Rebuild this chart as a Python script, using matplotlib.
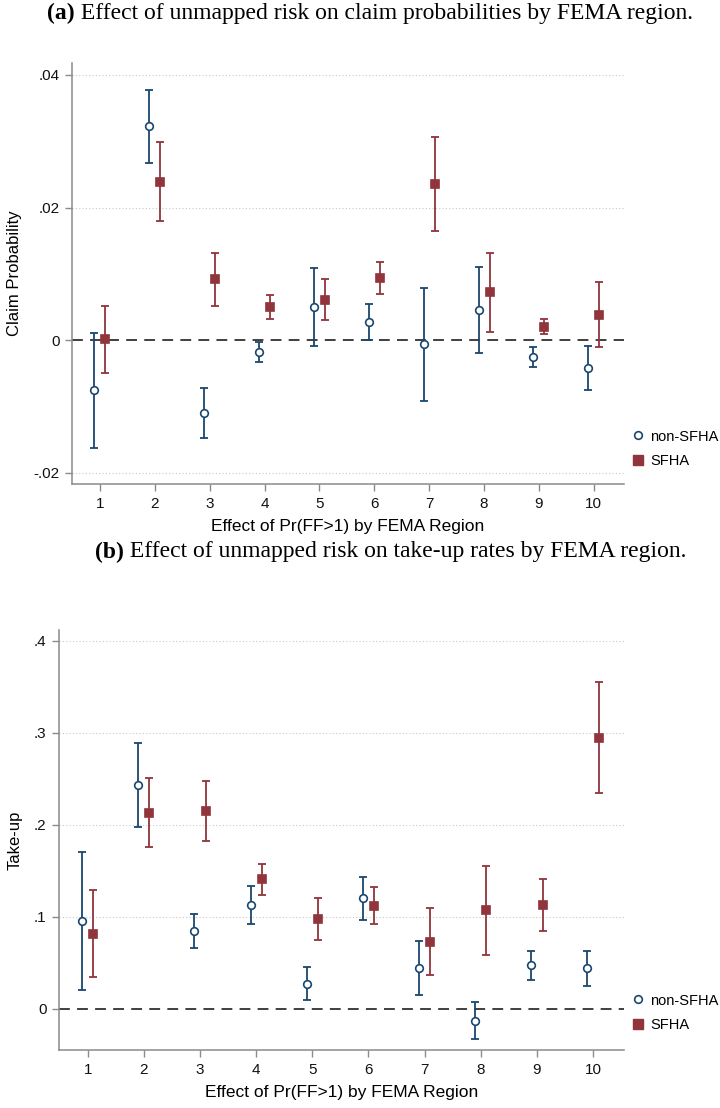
import matplotlib
matplotlib.use("Agg")
import matplotlib.pyplot as plt
from matplotlib.lines import Line2D
from matplotlib.ticker import FixedLocator, FixedFormatter
import numpy as np

regions = [1, 2, 3, 4, 5, 6, 7, 8, 9, 10]
xtick_labels = ["1", "2", "3", "4", "5", "6", "7", "8", "9", "10"]

# Panel (a): claim probability
claim_nonsfha = [-0.0075, 0.0323, -0.0110, -0.0018, 0.0050, 0.0027, -0.0006, 0.0046, -0.0026, -0.0042]
claim_nonsfha_lo = [-0.0162, 0.0267, -0.0147, -0.0033, -0.0009, 0.0000, -0.0092, -0.0020, -0.0040, -0.0075]
claim_nonsfha_hi = [0.0011, 0.0378, -0.0072, -0.0003, 0.0109, 0.0054, 0.0079, 0.0111, -0.0011, -0.0009]
claim_sfha = [0.0001, 0.0239, 0.0092, 0.0050, 0.0060, 0.0094, 0.0235, 0.0072, 0.0020, 0.0038]
claim_sfha_lo = [-0.0050, 0.0180, 0.0051, 0.0032, 0.0030, 0.0069, 0.0164, 0.0012, 0.0009, -0.0010]
claim_sfha_hi = [0.0052, 0.0299, 0.0132, 0.0068, 0.0092, 0.0118, 0.0307, 0.0132, 0.0032, 0.0087]
claim_yticks = [-0.02, 0.0, 0.02, 0.04]
claim_ytick_labels = ["-.02", "0", ".02", ".04"]

# Panel (b): take-up
take_nonsfha = [0.0956, 0.2435, 0.0844, 0.1127, 0.0276, 0.1200, 0.0447, -0.0127, 0.0473, 0.0444]
take_nonsfha_lo = [0.0211, 0.1978, 0.0665, 0.0924, 0.0095, 0.0964, 0.0149, -0.0330, 0.0309, 0.0251]
take_nonsfha_hi = [0.1707, 0.2888, 0.1033, 0.1335, 0.0455, 0.1433, 0.0742, 0.0080, 0.0633, 0.0633]
take_sfha = [0.0818, 0.2130, 0.2149, 0.1409, 0.0978, 0.1120, 0.0727, 0.1073, 0.1131, 0.2946]
take_sfha_lo = [0.0345, 0.1757, 0.1822, 0.1236, 0.0749, 0.0920, 0.0364, 0.0585, 0.0847, 0.2341]
take_sfha_hi = [0.1290, 0.2504, 0.2478, 0.1578, 0.1207, 0.1327, 0.1095, 0.1550, 0.1407, 0.3547]
take_yticks = [0.0, 0.1, 0.2, 0.3, 0.4]
take_ytick_labels = ["0", ".1", ".2", ".3", ".4"]

series_labels = ["non-SFHA", "SFHA"]
titles = [("(a)", " Effect of unmapped risk on claim probabilities by FEMA region."),
          ("(b)", " Effect of unmapped risk on take-up rates by FEMA region.")]

BLUE = "#1a476f"
RED = "#90353b"
AXC = "#8a8a8a"
SANS = ["Liberation Sans", "DejaVu Sans"]
SERIF = ["Liberation Serif", "DejaVu Serif"]

fig = plt.figure(figsize=(7.2, 11.08), dpi=100)

W, H = 720.0, 1108.0
def axrect(l, t, r, b):
    return [l / W, 1 - b / H, (r - l) / W, (b - t) / H]

ax_a = fig.add_axes(axrect(72, 63, 624, 484))
ax_b = fig.add_axes(axrect(59, 630, 624, 1050))

def draw_panel(ax, v1, lo1, hi1, v2, lo2, hi2, yticks, ylabels, ylim, ylabel, legend_y):
    x = np.array(regions, dtype=float)
    for xs, v, lo, hi, col, mk, mfc, ms in [
        (x - 0.1, v1, lo1, hi1, BLUE, "o", "white", 5.5),
        (x + 0.1, v2, lo2, hi2, RED, "s", RED, 6.0)]:
        v = np.array(v); lo = np.array(lo); hi = np.array(hi)
        ax.errorbar(xs, v, yerr=[v - lo, hi - v], fmt="none", ecolor=col,
                    elinewidth=1.3, capsize=3, capthick=1.3, zorder=3)
        ax.plot(xs, v, linestyle="none", marker=mk, markersize=ms,
                markerfacecolor=mfc, markeredgecolor=col, markeredgewidth=1.2, zorder=4)
    ax.axhline(0, color="#303030", linestyle=(0, (6, 4)), linewidth=1.3, zorder=2)
    for yt in yticks:
        if yt != 0:
            ax.axhline(yt, color="#c8c8c8", linestyle=(0, (1, 2)), linewidth=0.8, zorder=1)
    ax.set_xlim(0.49, 10.55)
    ax.set_ylim(*ylim)
    ax.yaxis.set_major_locator(FixedLocator(yticks))
    ax.yaxis.set_major_formatter(FixedFormatter(ylabels))
    ax.set_xticks(regions)
    ax.set_xticklabels(xtick_labels)
    for s in ["top", "right"]:
        ax.spines[s].set_visible(False)
    for s in ["left", "bottom"]:
        ax.spines[s].set_color(AXC)
        ax.spines[s].set_linewidth(1.1)
    ax.tick_params(axis="both", direction="out", length=5, width=1.0, color=AXC,
                   labelsize=11, labelcolor="#111111", pad=4)
    for lab in ax.get_xticklabels() + ax.get_yticklabels():
        lab.set_family(SANS)
    ax.set_ylabel(ylabel, fontsize=12, family=SANS, labelpad=8)
    ax.set_xlabel("Effect of Pr(FF>1) by FEMA Region", fontsize=12.5, family=SANS, labelpad=6)
    handles = [Line2D([], [], linestyle="none", marker="o", markersize=5.5,
                      markerfacecolor="white", markeredgecolor=BLUE, markeredgewidth=1.2),
               Line2D([], [], linestyle="none", marker="s", markersize=6.5,
                      markerfacecolor=RED, markeredgecolor=RED)]
    ax.legend(handles, series_labels, loc="center left",
              bbox_to_anchor=(634 / W, 1 - legend_y / H), bbox_transform=fig.transFigure,
              frameon=False, handlelength=0.6, handletextpad=0.5, labelspacing=0.75,
              borderpad=0, borderaxespad=0, prop={"family": SANS, "size": 10.5})

draw_panel(ax_a, claim_nonsfha, claim_nonsfha_lo, claim_nonsfha_hi,
           claim_sfha, claim_sfha_lo, claim_sfha_hi,
           claim_yticks, claim_ytick_labels, (-0.0217, 0.0418), "Claim Probability", 449)
draw_panel(ax_b, take_nonsfha, take_nonsfha_lo, take_nonsfha_hi,
           take_sfha, take_sfha_lo, take_sfha_hi,
           take_yticks, take_ytick_labels, (-0.0446, 0.4116), "Take-up", 1013)

# titles with bold panel letter
fig.canvas.draw()
renderer = fig.canvas.get_renderer()
for (bold, rest), ycen, x0 in zip(titles, [13, 552], [47, 95]):
    t1 = fig.text(x0 / W, 1 - ycen / H, bold, fontsize=17, fontweight="bold", family=SERIF,
                  va="center", ha="left")
    w1 = t1.get_window_extent(renderer).width
    fig.text((x0 + w1) / W, 1 - ycen / H, rest, fontsize=17, family=SERIF,
             va="center", ha="left")

fig.savefig("out.png", dpi=100)
